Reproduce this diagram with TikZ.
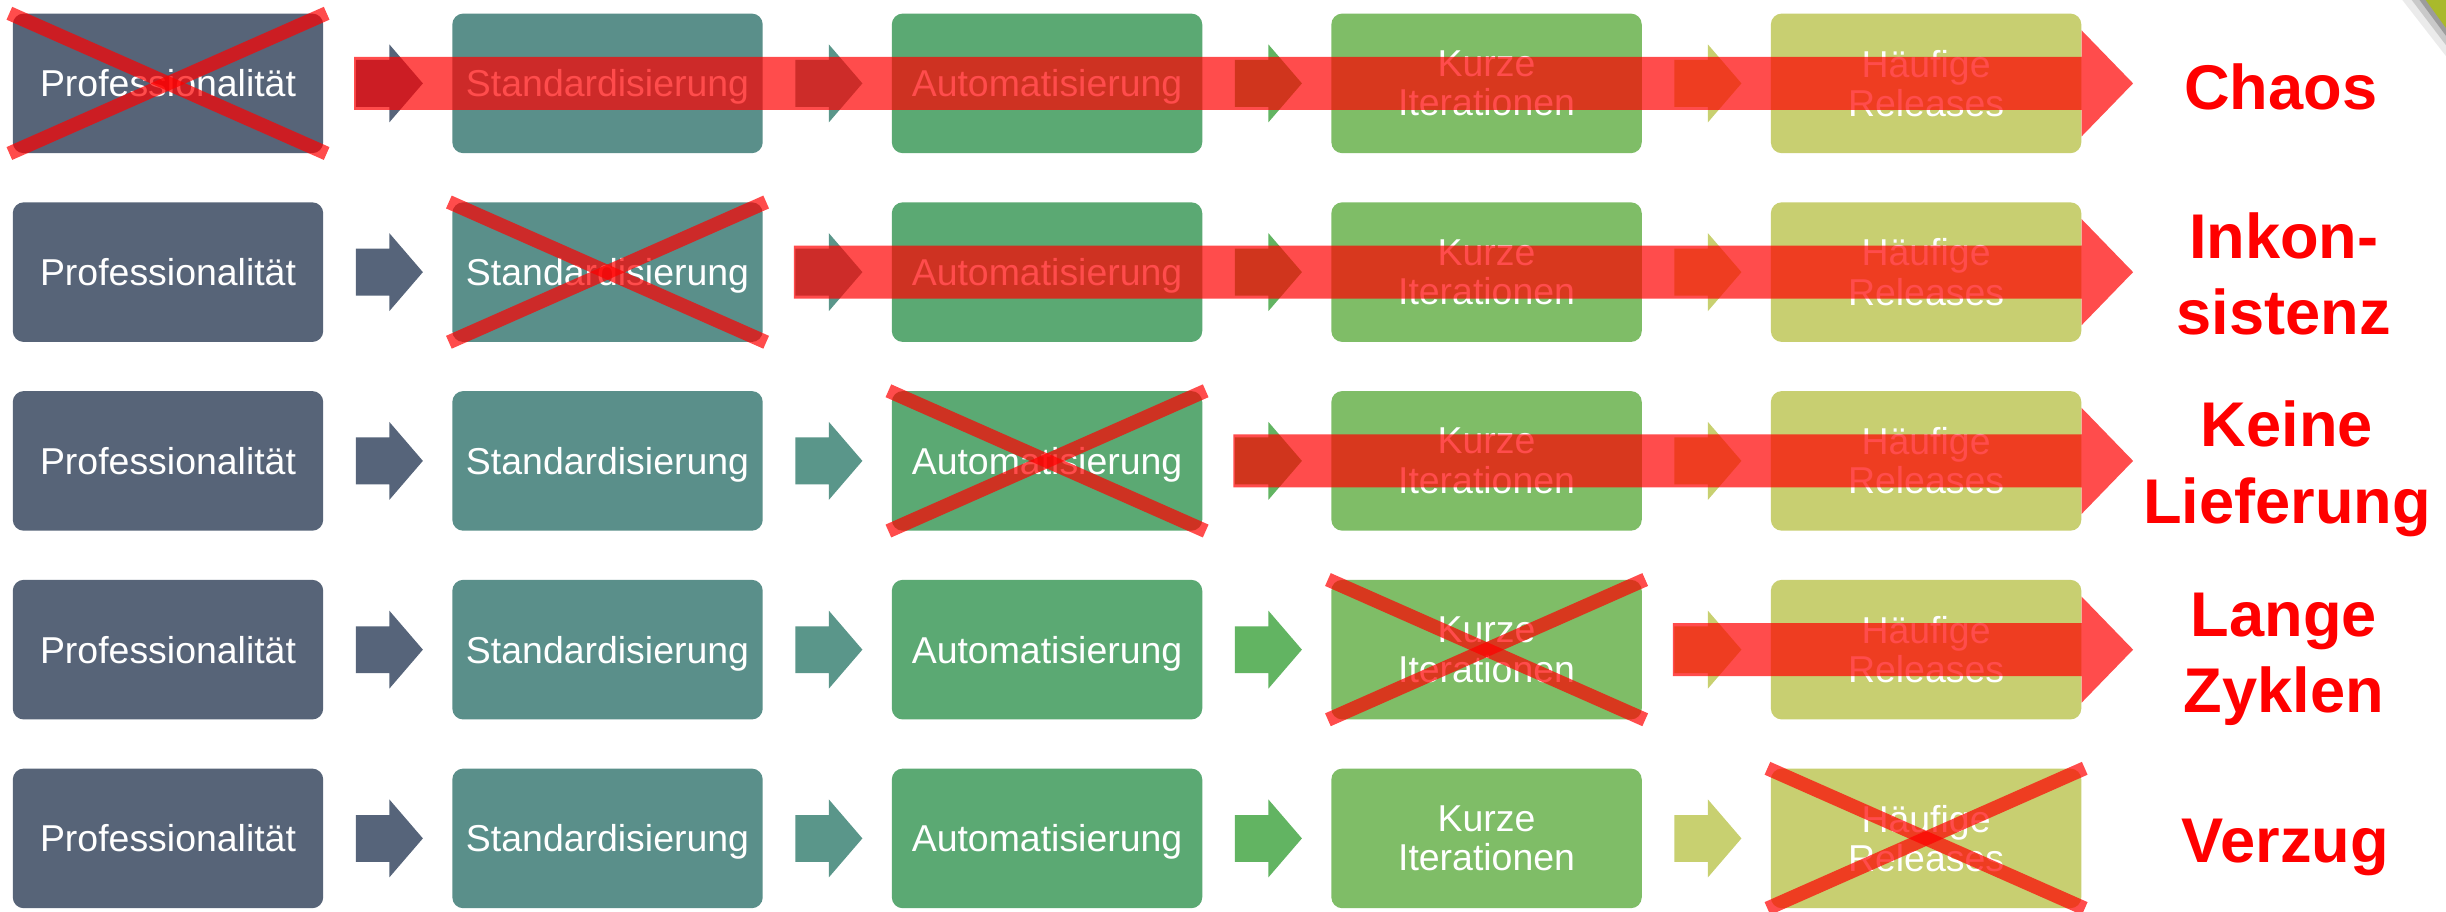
\documentclass[tikz,border=0pt]{standalone}
\usepackage{fontspec}
\setmainfont{Liberation Sans}
\usetikzlibrary{calc}
\definecolor{cA}{HTML}{576478}
\definecolor{cB}{HTML}{5A8F8A}
\definecolor{cC}{HTML}{5BA973}
\definecolor{cD}{HTML}{7FBD67}
\definecolor{cE}{HTML}{C8CF71}
\definecolor{aA}{HTML}{56647A}
\definecolor{aB}{HTML}{5A968A}
\definecolor{aC}{HTML}{62B462}
\definecolor{aD}{HTML}{C8D070}
\definecolor{deco}{HTML}{A9B92B}
\newcommand\stagerow[2]{%
  \node[stage,oneline,fill=cA] (b#1a) at (8,#2) {Professionalität};
  \node[stage,oneline,fill=cB] (b#1b) at (289.75,#2) {Standardisierung};
  \node[stage,oneline,fill=cC] (b#1c) at (571.5,#2) {Automatisierung};
  \node[stage,twoline,fill=cD] (b#1d) at (853.25,#2) {Kurze\\Iterationen};
  \node[stage,twoline,fill=cE] (b#1e) at (1135,#2) {Häufige\\Releases};
}
\newcommand\linkarrow[4]{%
  \coordinate (m#1#2) at ($(b#1#2.east)!.5!(b#1#3.west)$);
  \fill[#4] ($(m#1#2)+(-20.5,-15)$) -- ++(21.5,0) -- ++(0,-10) -- ++(21.5,25)
     -- ++(-21.5,25) -- ++(0,-10) -- ++(-21.5,0) -- cycle;
}
\newcommand\failarrow[2]{%
  \coordinate (s#1) at ($(m#1#2)+(-21.5,0)$);
  \coordinate (t#1) at ($(b#1e.east)+(33,0)$);
  \fill[failshape] ($(s#1)+(0,-17)$) -- ($(b#1e.east)+(0,-17)$) -- ($(b#1e.east)+(0,-34)$)
     -- (t#1) -- ($(b#1e.east)+(0,34)$) -- ($(b#1e.east)+(0,17)$) -- ($(s#1)+(0,17)$) -- cycle;
}
\newcommand\strike[1]{%
  \draw[cross] ($(#1.north west)+(-2,0)$) -- ($(#1.south east)+(2,0)$);
  \draw[cross] ($(#1.south west)+(-2,0)$) -- ($(#1.north east)+(2,0)$);
}
\begin{document}
\begin{tikzpicture}[x=1pt,y=-1pt,
  stage/.style={rectangle, rounded corners=7pt, minimum width=199pt, minimum height=89.5pt,
    inner sep=0pt, text=white, font=\fontsize{24}{25.2}\selectfont, anchor=north west},
  oneline/.style={text height=17.3pt, text depth=0pt},
  twoline/.style={align=center},
  result/.style={text=red, font=\fontsize{40.5}{49}\selectfont\bfseries, align=center,
    anchor=base, inner sep=0pt},
  failshape/.style={fill=red, fill opacity=0.7},
  cross/.style={draw=red, draw opacity=0.7, line width=9pt}]
\useasboundingbox (0,0) rectangle (1568,584);
\fill[white] (0,0) rectangle (1568,584);
% decoration top right
\fill[black, opacity=0.08] (1540,0) -- (1568,0) -- (1568,36) -- cycle;
\fill[black, opacity=0.14] (1546,0) -- (1568,0) -- (1568,29) -- cycle;
\fill[black, opacity=0.22] (1551,0) -- (1568,0) -- (1568,23) -- cycle;
\fill[deco] (1555,0) -- (1568,0) -- (1568,18) -- cycle;
% rows of stages
\stagerow{1}{8.5}
\stagerow{2}{129.5}
\stagerow{3}{250.5}
\stagerow{4}{371.5}
\stagerow{5}{492.5}
\foreach \r in {1,...,5}{
  \linkarrow{\r}{a}{b}{aA}
  \linkarrow{\r}{b}{c}{aB}
  \linkarrow{\r}{c}{d}{aC}
  \linkarrow{\r}{d}{e}{aD}
}
% results (base = baseline of the last line)
\node[result] (l1) at (1462,70) {Chaos};
\node[result] (l2) at (1464,214.5) {Inkon-\\sistenz};
\node[result] (l3) at (1466,335.5) {Keine\\Lieferung};
\node[result] (l4) at (1464,457) {Lange\\Zyklen};
\node[result] (l5) at (1465,553) {Verzug};
% failures
\failarrow{1}{a}
\failarrow{2}{b}
\failarrow{3}{c}
\failarrow{4}{d}
\strike{b1a}
\strike{b2b}
\strike{b3c}
\strike{b4d}
\strike{b5e}
\end{tikzpicture}
\end{document}
